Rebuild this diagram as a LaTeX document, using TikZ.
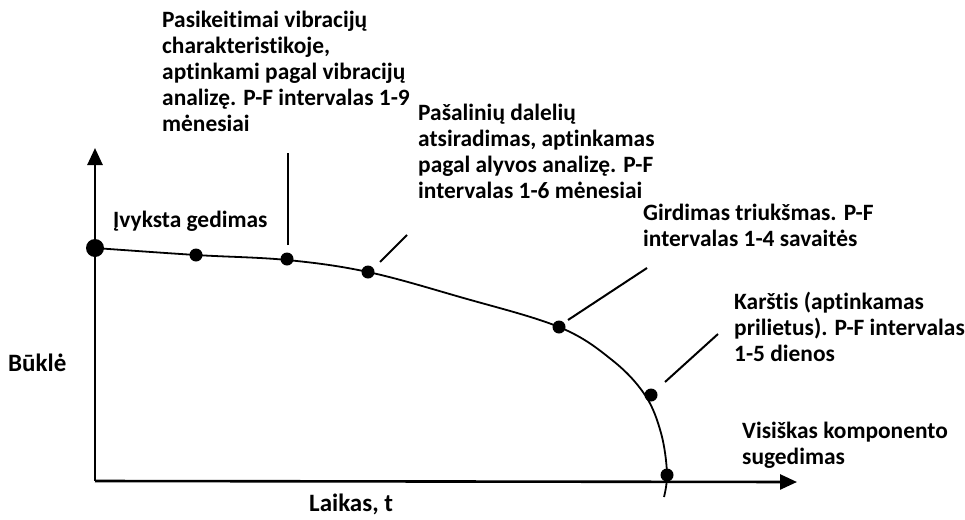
\documentclass[tikz,border=0pt]{standalone}
\usepackage{fontspec}
\setmainfont{Carlito}[Ligatures=CommonOff]
\usetikzlibrary{arrows.meta}
\tikzset{
  lbl/.style={anchor=north west, inner sep=0pt, align=left, font=\fontsize{23.4}{26}\selectfont\bfseries},
  axlbl/.style={anchor=north west, inner sep=0pt, font=\fontsize{25}{28}\selectfont\bfseries},
  dot/.style={circle, fill=black, inner sep=0pt, minimum size=13pt},
  bigdot/.style={circle, fill=black, inner sep=0pt, minimum size=18pt},
  axis/.style={line width=2.6pt, -{Triangle[length=17pt,width=15pt]}},
  leader/.style={line width=2pt},
  curve/.style={line width=1.8pt}
}
\begin{document}
\begin{tikzpicture}[x=1pt,y=-1pt]
\useasboundingbox (0,0) rectangle (965,519);
% axes
\coordinate (o) at (95,481);
\coordinate (ytip) at (95,148);
\coordinate (xtip) at (797,482);
\draw[axis] (o) -- (ytip);
\draw[axis] (o) -- (xtip);
% curve
\draw[curve] plot[smooth, tension=0.6] coordinates {(95,248) (196,255) (287,260) (368,272) (460,297) (559,327) (612,360) (645,395) (661,433) (667,473) (664,497)};
% dots
\node[bigdot] (d0) at (95,248) {};
\node[dot] (d1) at (196,255) {};
\node[dot] (d2) at (287,259) {};
\node[dot] (d3) at (368,272) {};
\node[dot] (d4) at (559,327) {};
\node[dot] (d5) at (651,395) {};
\node[dot] (d6) at (667,475) {};
% leader lines
\coordinate (a1) at (288,245); \coordinate (b1) at (288,153);
\coordinate (a2) at (380,262); \coordinate (b2) at (407,235);
\coordinate (a3) at (568,320); \coordinate (b3) at (647,268);
\coordinate (a4) at (665,382); \coordinate (b4) at (718,334);
\draw[leader] (a1) -- (b1);
\draw[leader] (a2) -- (b2);
\draw[leader] (a3) -- (b3);
\draw[leader] (a4) -- (b4);
% labels
\node[lbl] (t1) at (162,11) {Pasikeitimai vibracijų\\charakteristikoje,\\aptinkami pagal vibracijų\\analizę. P-F intervalas 1-9\\mėnesiai};
\node[lbl] (t2) at (418,104) {Pašalinių dalelių\\atsiradimas, aptinkamas\\pagal alyvos analizę. P-F\\intervalas 1-6 mėnesiai};
\node[lbl] (t0) at (113,211) {Įvyksta gedimas};
\node[lbl] (t3) at (643,204) {Girdimas triukšmas. P-F\\intervalas 1-4 savaitės};
\node[lbl] (t4) at (734,292) {Karštis (aptinkamas\\prilietus). P-F intervalas\\1-5 dienos};
\node[lbl] (t5) at (742,422) {Visiškas komponento\\sugedimas};
\node[axlbl] (yl) at (8,354) {Būklė};
\node[axlbl] (xl) at (309,494) {Laikas, t};
\end{tikzpicture}
\end{document}
